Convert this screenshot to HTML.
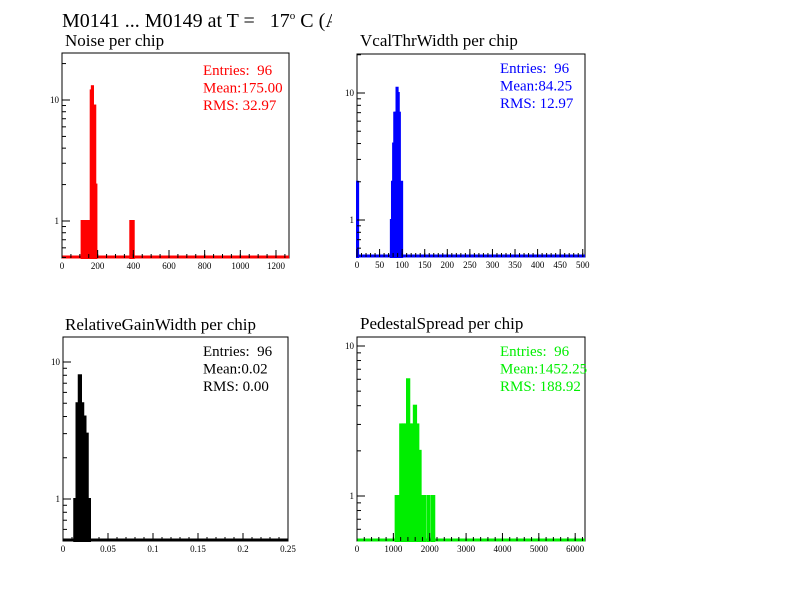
<!DOCTYPE html>
<html><head><meta charset="utf-8"><style>
body{margin:0;background:#fff}
svg{display:block;font-family:"Liberation Serif",serif}
svg text{white-space:pre}
</style></head><body>
<svg id="c" width="792" height="612" viewBox="0 0 792 612">
<defs><clipPath id="tclip"><rect x="0" y="0" width="332" height="40"/></clipPath></defs>
<rect width="792" height="612" fill="#fff"/>
<text x="62" y="27" font-size="20" clip-path="url(#tclip)" xml:space="preserve">M0141 ... M0149 at T =   17<tspan dy="-8" font-size="11">o</tspan><tspan dy="8"> C (A</tspan></text>
</svg>
<script>
// Noise per chip
const noiseLo=[110,116.4,122.8,129.2,135.6,142,148.4,154.8,161,167.4,173.8,180.2,186.6,383,389.4,395.8];
const noiseCounts=[1,1,1,1,1,1,1,1,12,13,8,9,2,1,1,1];
// VcalThrWidth per chip
const vcalLo=[0,75,77.5,80,82.5,85,87.5,90,92.5,95,97.5];
const vcalCounts=[2,1,2,4,7,7,11,10,7,1,2];
// RelativeGainWidth per chip
const gainLo=[0.0125,0.015,0.0175,0.02,0.0225,0.025,0.0275];
const gainCounts=[1,5,8,5,4,3,1];
// PedestalSpread per chip
const pedLo=[1062.5,1125,1187.5,1250,1312.5,1375,1437.5,1500,1562.5,1625,1687.5,1750,1812.5,1937.5,2062.5];
const pedCounts=[1,1,3,3,3,6,3,3,4,3,2,1,1,1,1];
const xTicksNoise=[0,200,400,600,800,1000,1200];
const xTicksVcal=[0,50,100,150,200,250,300,350,400,450,500];
const xTicksGain=[0,0.05,0.1,0.15,0.2,0.25];
const xTicksPed=[0,1000,2000,3000,4000,5000,6000];
const stats=[["Entries:  96","Mean:175.00","RMS: 32.97"],["Entries:  96","Mean:84.25","RMS: 12.97"],["Entries:  96","Mean:0.02","RMS: 0.00"],["Entries:  96","Mean:1452.25","RMS: 188.92"]];

const NS="http://www.w3.org/2000/svg";
const svg=document.getElementById('c');
function el(t,a,p){const e=document.createElementNS(NS,t);for(const k in a)e.setAttribute(k,a[k]);(p||svg).appendChild(e);return e;}

const panels=[
 {name:'noise',title:'Noise per chip',tx:65,ty:46,L:62,R:289,T:53,B:258,xmax:1273,y1:221,dec:121,color:'#ff0000',lo:noiseLo,cnt:noiseCounts,w:6.4,ticks:xTicksNoise,minor:50,sx:203,sy:75,fmt:v=>String(v)},
 {name:'vcal',title:'VcalThrWidth per chip',tx:360,ty:46,L:357,R:585,T:54,B:257,xmax:505,y1:220,dec:127,color:'#0000ff',lo:vcalLo,cnt:vcalCounts,w:2.5,ticks:xTicksVcal,minor:10,sx:500,sy:73,fmt:v=>String(v)},
 {name:'gain',title:'RelativeGainWidth per chip',tx:65,ty:330,L:63,R:288,T:337,B:541,xmax:0.25,y1:499,dec:137,color:'#000000',lo:gainLo,cnt:gainCounts,w:0.0025,ticks:xTicksGain,minor:0.01,sx:203,sy:356,fmt:v=>String(v)},
 {name:'pedestal',title:'PedestalSpread per chip',tx:360,ty:329,L:357,R:585,T:337,B:541,xmax:6270,y1:496,dec:150,color:'#00ee00',lo:pedLo,cnt:pedCounts,w:62.5,ticks:xTicksPed,minor:200,sx:500,sy:356,fmt:v=>String(v)}
];

panels.forEach((p,pi)=>{
 const g=el('g',{});
 
 
 const xs=v=>p.L+(p.R-p.L)*v/p.xmax;
 const ys=v=>p.y1-p.dec*Math.log10(v);
 const t=el('text',{x:p.tx,y:p.ty,'font-size':17},g);t.textContent=p.title;
 
 
 const f=el('rect',{x:p.L,y:p.T,width:p.R-p.L,height:p.B-p.T,fill:'none',stroke:'#000','stroke-width':1},g);
 
 
 p.lo.forEach((lo,i)=>{
  const x0=xs(lo),x1=xs(lo+p.w),y=Math.max(ys(p.cnt[i]),p.T);
  const r=el('rect',{x:x0,y:y,width:Math.max(x1-x0,1),height:p.B-y,fill:p.color,stroke:p.color,'stroke-width':2},g);
  
  
 });
 const base=el('line',{x1:p.L,x2:p.R,y1:p.B-1,y2:p.B-1,stroke:p.color,'stroke-width':3},g);
 
 
 for(let d=0.1;d<=100;d*=10){
  for(let m=1;m<10;m++){
   const v=d*m;const y=ys(v);
   if(y<p.T||y>p.B)continue;
   el('line',{x1:p.L,x2:p.L+(m===1?8:4),y1:y,y2:y,stroke:'#000','stroke-width':1},g);
   if(m===1){const lt=el('text',{x:p.L-3,y:y+3,'font-size':9,'text-anchor':'end'},g);lt.textContent=String(Math.round(v));
    
    }
  }
 }
 for(let v=0;v<=p.xmax+1e-9;v+=p.minor){
  const x=xs(v);el('line',{x1:x,x2:x,y1:p.B,y2:p.B-4,stroke:'#000','stroke-width':1},g);
 }
 p.ticks.forEach(v=>{
  const x=xs(v);el('line',{x1:x,x2:x,y1:p.B,y2:p.B-8,stroke:'#000','stroke-width':1},g);
  const lt=el('text',{x:x,y:p.B+11,'font-size':9,'text-anchor':'middle'},g);lt.textContent=p.fmt(v);
  
  
 });
 stats[pi].forEach((s,k)=>{
  const st=el('text',{x:p.sx,y:p.sy+k*17.5,'font-size':15,fill:p.color},g);st.textContent=s;
  
  
 });
});
</script>
</body></html>
